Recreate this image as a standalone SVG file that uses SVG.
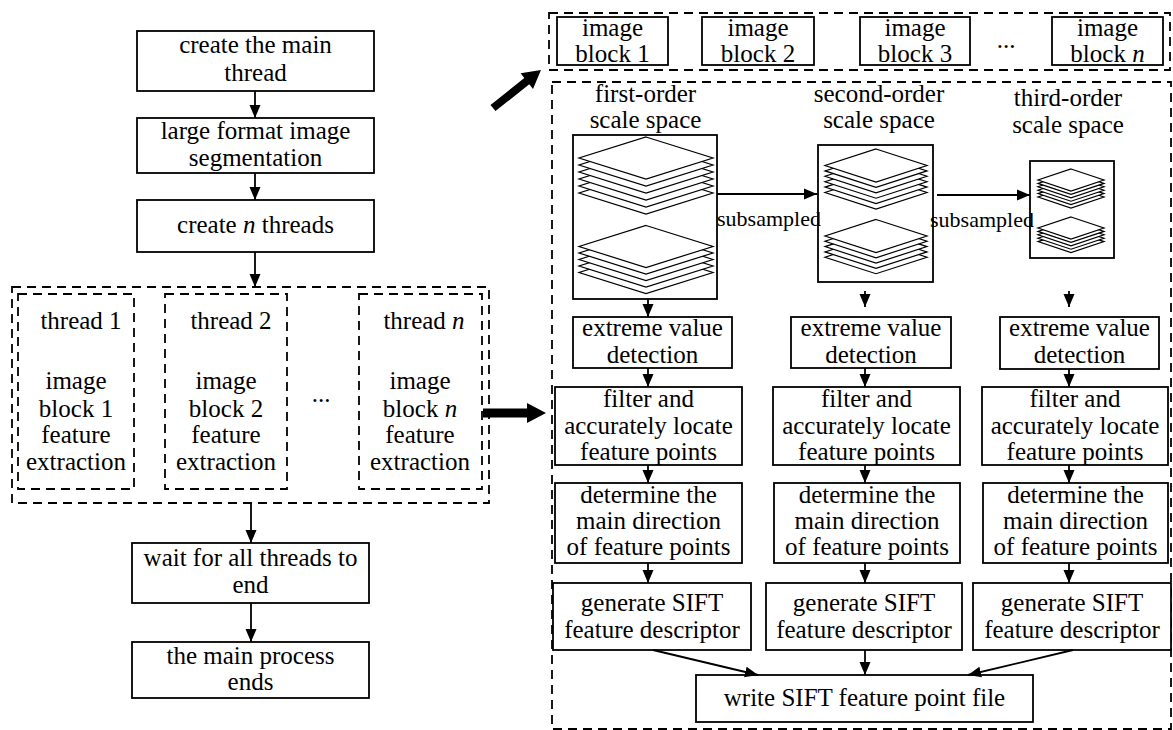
<svg xmlns="http://www.w3.org/2000/svg" xmlns:xlink="http://www.w3.org/1999/xlink" width="1173" height="730" viewBox="0 0 1173 730">
<style>
.box{fill:#fff;stroke:#000;stroke-width:1.8}
.dash{fill:none;stroke:#000;stroke-width:1.8;stroke-dasharray:9 6}
.t{font-family:"Liberation Serif","Times New Roman",serif;font-size:25px;fill:#000;text-anchor:middle}
.s{font-family:"Liberation Serif","Times New Roman",serif;font-size:22px;fill:#000;text-anchor:middle}
.ln{fill:none;stroke:#000;stroke-width:1.8}
.dm{fill:#fff;stroke:#000;stroke-width:1.2}
</style>
<defs>
<marker id="ah" markerUnits="userSpaceOnUse" markerWidth="14" markerHeight="14" viewBox="0 0 14 14" refX="13" refY="7" orient="auto">
<path d="M0,1.5 L13,7 L0,12.5 Z" fill="#000"/>
</marker>
<path id="d1" d="M0,-21 L67,0 L0,21 L-67,0 Z"/>
<path id="d2" d="M0,-16.5 L51,0 L0,16.5 L-51,0 Z"/>
<path id="d3" d="M0,-11 L33,0 L0,11 L-33,0 Z"/>
</defs>
<rect width="1173" height="730" fill="#fff"/>

<!-- left flow -->
<g id="n-create-main">
<rect class="box" x="137" y="31" width="237" height="60"/>
<text class="t" x="255.5" y="53">create the main</text>
<text class="t" x="255.5" y="81">thread</text>
</g>
<g id="n-segmentation">
<rect class="box" x="137" y="118" width="237" height="55"/>
<text class="t" x="255.5" y="139">large format image</text>
<text class="t" x="255.5" y="166">segmentation</text>
</g>
<g id="n-create-n">
<rect class="box" x="137" y="200" width="237" height="52"/>
<text class="t" x="255.5" y="233">create <tspan font-style="italic">n</tspan> threads</text>
</g>
<g id="n-threads">
<rect class="dash" x="12" y="287" width="477" height="216"/>
<g id="n-thread1">
<rect class="dash" x="18" y="294" width="116" height="195"/>
<text class="t" x="81" y="329">thread 1</text>
<text class="t" x="76" y="389">image</text>
<text class="t" x="76" y="417">block 1</text>
<text class="t" x="76" y="443">feature</text>
<text class="t" x="76" y="470">extraction</text>
</g>
<g id="n-thread2">
<rect class="dash" x="165" y="294" width="122" height="195"/>
<text class="t" x="231" y="329">thread 2</text>
<text class="t" x="226" y="389">image</text>
<text class="t" x="226" y="417">block 2</text>
<text class="t" x="226" y="443">feature</text>
<text class="t" x="226" y="470">extraction</text>
</g>
<text class="t" x="321" y="402">...</text>
<g id="n-threadn">
<rect class="dash" x="359" y="294" width="123" height="195"/>
<text class="t" x="424" y="329">thread <tspan font-style="italic">n</tspan></text>
<text class="t" x="420" y="389">image</text>
<text class="t" x="420" y="417">block <tspan font-style="italic">n</tspan></text>
<text class="t" x="420" y="443">feature</text>
<text class="t" x="420" y="470">extraction</text>
</g>
</g>
<g id="n-wait">
<rect class="box" x="132" y="543" width="237" height="60"/>
<text class="t" x="250.5" y="566">wait for all threads to</text>
<text class="t" x="250.5" y="593">end</text>
</g>
<g id="n-main-ends">
<rect class="box" x="132" y="642" width="237" height="56"/>
<text class="t" x="250.5" y="664">the main process</text>
<text class="t" x="250.5" y="690">ends</text>
</g>

<!-- top image blocks -->
<g id="n-blocks">
<rect class="dash" x="549" y="13" width="621" height="57"/>
<g id="n-block1"><rect class="box" x="557" y="17" width="111" height="48"/>
<text class="t" x="612.5" y="36">image</text><text class="t" x="612.5" y="62">block 1</text></g>
<g id="n-block2"><rect class="box" x="702" y="17" width="112" height="48"/>
<text class="t" x="758" y="36">image</text><text class="t" x="758" y="62">block 2</text></g>
<g id="n-block3"><rect class="box" x="860" y="17" width="110" height="48"/>
<text class="t" x="915" y="36">image</text><text class="t" x="915" y="62">block 3</text></g>
<text class="t" x="1006" y="48">...</text>
<g id="n-blockn"><rect class="box" x="1052" y="17" width="111" height="48"/>
<text class="t" x="1107.5" y="36">image</text><text class="t" x="1107.5" y="62">block <tspan font-style="italic">n</tspan></text></g>
</g>

<!-- right container -->
<g id="n-sift">
<rect class="dash" x="552" y="82" width="619" height="647"/>

<g id="n-scale1">
<text class="t" x="645.5" y="102">first-order</text>
<text class="t" x="645.5" y="128">scale space</text>
<rect class="box" x="573" y="135" width="144" height="164"/>
<g class="dm">
<use href="#d1" x="646" y="193"/><use href="#d1" x="646" y="186"/><use href="#d1" x="646" y="179"/>
<use href="#d1" x="646" y="172"/><use href="#d1" x="646" y="165"/><use href="#d1" x="646" y="158"/>
<use href="#d1" x="646" y="272.5"/><use href="#d1" x="646" y="266"/><use href="#d1" x="646" y="259.5"/>
<use href="#d1" x="646" y="253"/><use href="#d1" x="646" y="246.5"/>
</g>
</g>
<g id="n-scale2">
<text class="t" x="879" y="102">second-order</text>
<text class="t" x="879" y="128">scale space</text>
<rect class="box" x="818" y="145" width="115" height="137"/>
<g class="dm">
<use href="#d2" x="876" y="192.5"/><use href="#d2" x="876" y="187.1"/><use href="#d2" x="876" y="181.7"/>
<use href="#d2" x="876" y="176.3"/><use href="#d2" x="876" y="170.9"/><use href="#d2" x="876" y="165.5"/>
<use href="#d2" x="876" y="257.2"/><use href="#d2" x="876" y="251.9"/><use href="#d2" x="876" y="246.6"/>
<use href="#d2" x="876" y="241.3"/><use href="#d2" x="876" y="236"/>
</g>
</g>
<g id="n-scale3">
<text class="t" x="1068" y="106">third-order</text>
<text class="t" x="1068" y="133">scale space</text>
<rect class="box" x="1030" y="161" width="84" height="97"/>
<g class="dm">
<use href="#d3" x="1071" y="197"/><use href="#d3" x="1071" y="193.6"/><use href="#d3" x="1071" y="190.2"/>
<use href="#d3" x="1071" y="186.8"/><use href="#d3" x="1071" y="183.4"/><use href="#d3" x="1071" y="180"/>
<use href="#d3" x="1071" y="241.6"/><use href="#d3" x="1071" y="238.2"/><use href="#d3" x="1071" y="234.8"/>
<use href="#d3" x="1071" y="231.4"/><use href="#d3" x="1071" y="228"/>
</g>
</g>

<g id="n-extreme1"><rect class="box" x="573" y="317" width="159" height="51"/>
<text class="t" x="652.5" y="336">extreme value</text><text class="t" x="652.5" y="363">detection</text></g>
<g id="n-extreme2"><rect class="box" x="791" y="317" width="160" height="51"/>
<text class="t" x="871" y="336">extreme value</text><text class="t" x="871" y="363">detection</text></g>
<g id="n-extreme3"><rect class="box" x="1000" y="317" width="159" height="52"/>
<text class="t" x="1079.5" y="336">extreme value</text><text class="t" x="1079.5" y="363">detection</text></g>

<g id="n-filter1"><rect class="box" x="555" y="387" width="187" height="78"/>
<text class="t" x="648.5" y="407">filter and</text><text class="t" x="648.5" y="434">accurately locate</text><text class="t" x="648.5" y="460">feature points</text></g>
<g id="n-filter2"><rect class="box" x="773" y="387" width="187" height="78"/>
<text class="t" x="866.5" y="407">filter and</text><text class="t" x="866.5" y="434">accurately locate</text><text class="t" x="866.5" y="460">feature points</text></g>
<g id="n-filter3"><rect class="box" x="982" y="387" width="186" height="78"/>
<text class="t" x="1075" y="407">filter and</text><text class="t" x="1075" y="434">accurately locate</text><text class="t" x="1075" y="460">feature points</text></g>

<g id="n-dir1"><rect class="box" x="555" y="483" width="187" height="80"/>
<text class="t" x="648.5" y="503">determine the</text><text class="t" x="648.5" y="529">main direction</text><text class="t" x="648.5" y="555">of feature points</text></g>
<g id="n-dir2"><rect class="box" x="774" y="483" width="186" height="80"/>
<text class="t" x="867" y="503">determine the</text><text class="t" x="867" y="529">main direction</text><text class="t" x="867" y="555">of feature points</text></g>
<g id="n-dir3"><rect class="box" x="983" y="483" width="185" height="80"/>
<text class="t" x="1075.5" y="503">determine the</text><text class="t" x="1075.5" y="529">main direction</text><text class="t" x="1075.5" y="555">of feature points</text></g>

<g id="n-gen1"><rect class="box" x="553" y="583" width="198" height="67"/>
<text class="t" x="652" y="611">generate SIFT</text><text class="t" x="652" y="638">feature descriptor</text></g>
<g id="n-gen2"><rect class="box" x="766" y="583" width="196" height="67"/>
<text class="t" x="864" y="611">generate SIFT</text><text class="t" x="864" y="638">feature descriptor</text></g>
<g id="n-gen3"><rect class="box" x="973" y="583" width="198" height="67"/>
<text class="t" x="1072" y="611">generate SIFT</text><text class="t" x="1072" y="638">feature descriptor</text></g>

<g id="n-write"><rect class="box" x="696" y="675" width="337" height="47"/>
<text class="t" x="864.5" y="706">write SIFT feature point file</text></g>
</g>

<!-- connectors -->
<g id="connectors">
<line class="ln" x1="255" y1="91" x2="255" y2="118" marker-end="url(#ah)"/>
<line class="ln" x1="255" y1="173" x2="255" y2="200" marker-end="url(#ah)"/>
<line class="ln" x1="255" y1="252" x2="255" y2="287" marker-end="url(#ah)"/>
<line class="ln" x1="251" y1="503" x2="251" y2="543" marker-end="url(#ah)"/>
<line class="ln" x1="251" y1="603" x2="251" y2="642" marker-end="url(#ah)"/>
<path d="M483,408.5 L527,408.5 L527,403 L546,413 L527,423 L527,417.5 L483,417.5 Z" fill="#000"/>
<path d="M490.5,104.9 L524.3,78.1 L520.6,73.3 L541,70 L533,89.1 L529.3,84.3 L495.5,111.1 Z" fill="#000"/>
<line class="ln" x1="717" y1="194" x2="817" y2="194" marker-end="url(#ah)"/>
<line class="ln" x1="937" y1="195" x2="1030" y2="195" marker-end="url(#ah)"/>
<text class="s" x="769" y="226">subsampled</text>
<text class="s" x="982" y="227">subsampled</text>
<line class="ln" x1="648" y1="299" x2="648" y2="317" marker-end="url(#ah)"/>
<line class="ln" x1="865" y1="291" x2="865" y2="307" marker-end="url(#ah)"/>
<line class="ln" x1="1069" y1="291" x2="1069" y2="307" marker-end="url(#ah)"/>
<line class="ln" x1="648" y1="368" x2="648" y2="387" marker-end="url(#ah)"/>
<line class="ln" x1="865" y1="368" x2="865" y2="387" marker-end="url(#ah)"/>
<line class="ln" x1="1069" y1="369" x2="1069" y2="387" marker-end="url(#ah)"/>
<line class="ln" x1="648" y1="465" x2="648" y2="483" marker-end="url(#ah)"/>
<line class="ln" x1="865" y1="465" x2="865" y2="483" marker-end="url(#ah)"/>
<line class="ln" x1="1069" y1="465" x2="1069" y2="483" marker-end="url(#ah)"/>
<line class="ln" x1="648" y1="563" x2="648" y2="583" marker-end="url(#ah)"/>
<line class="ln" x1="865" y1="563" x2="865" y2="583" marker-end="url(#ah)"/>
<line class="ln" x1="1069" y1="563" x2="1069" y2="583" marker-end="url(#ah)"/>
<line class="ln" x1="653" y1="650" x2="758" y2="675" marker-end="url(#ah)"/>
<line class="ln" x1="865" y1="650" x2="865" y2="675" marker-end="url(#ah)"/>
<line class="ln" x1="1073" y1="650" x2="968" y2="675" marker-end="url(#ah)"/>
</g>
</svg>
